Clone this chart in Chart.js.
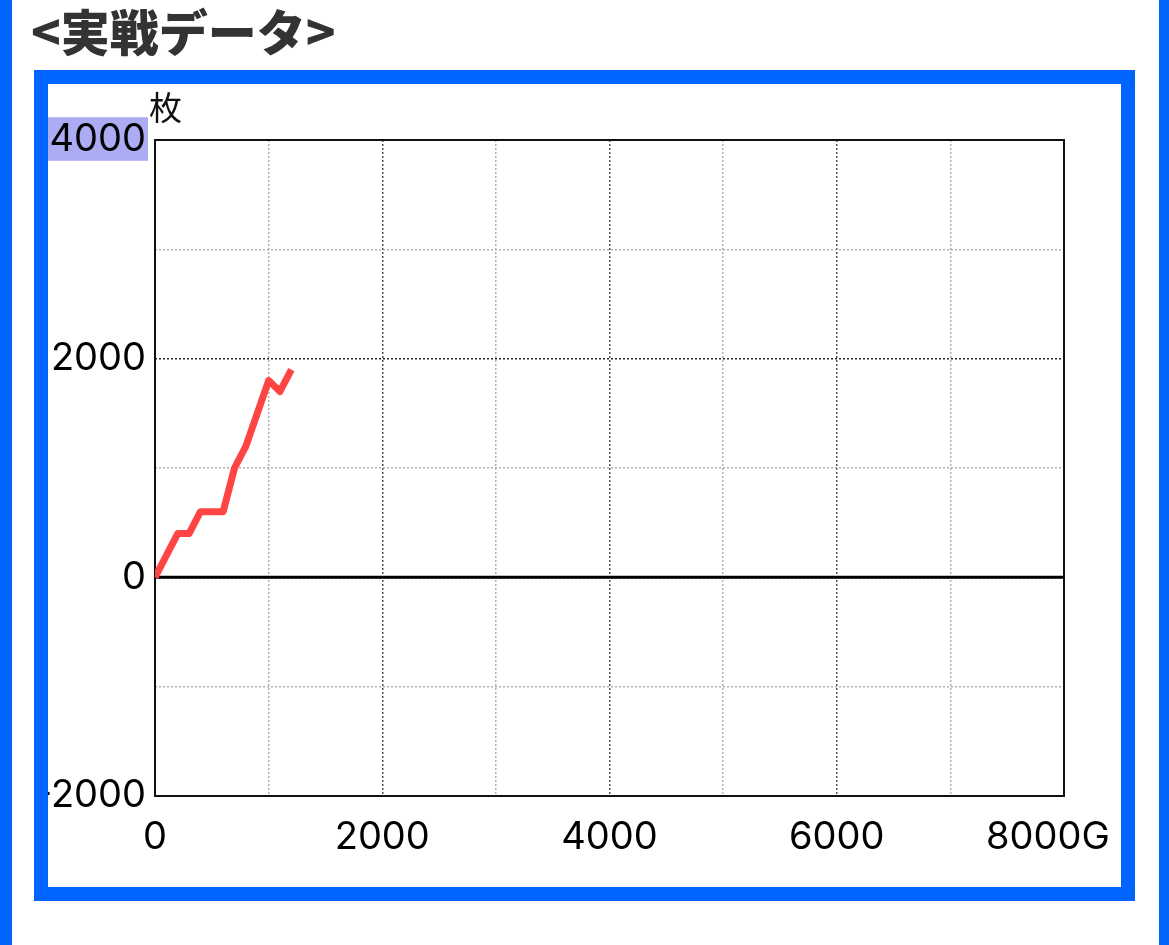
<!DOCTYPE html>
<html><head><meta charset="utf-8">
<script src="https://cdn.jsdelivr.net/npm/chart.js@4.4.0/dist/chart.umd.min.js"></script>
<style>
html,body{margin:0;padding:0;background:#fff;}
body{width:1169px;height:945px;position:relative;overflow:hidden;}
.strip{position:absolute;top:0;height:945px;background:#0064ff;}
#title{position:absolute;left:31px;top:-5px;font-family:"Noto Sans CJK JP";font-weight:900;font-size:49px;line-height:70px;color:#333;margin:0;white-space:nowrap;}
#box{position:absolute;left:34px;top:70px;width:1073px;height:803px;border:14px solid #0064ff;background:#fff;}
#unit{position:absolute;left:101px;top:0px;font-family:"Noto Sans CJK JP";font-size:33px;line-height:44px;color:#111;}
canvas{position:absolute;left:0;top:0;}
</style></head>
<body>
<div class="strip" style="left:0;width:12px"></div>
<div class="strip" style="left:1159px;width:10px"></div>
<h1 id="title">&lt;実戦データ&gt;</h1>
<div id="box">
<canvas id="c" width="1073" height="803"></canvas>
<div id="unit">枚</div>
</div>
<script>
// data
const games = [0, 200, 300, 400, 600, 700, 800, 1000, 1100, 1200];
const coins = [0, 400, 400, 600, 600, 1000, 1200, 1800, 1700, 1900];
const xLabels = {0: '0', 2000: '2000', 4000: '4000', 6000: '6000', 8000: '8000G   '};
const yLabels = {4000: '4000', 2000: '2000', 0: '0', '-2000': '-2000'};
const xRange = [0, 8000];
const yRange = [-2000, 4000];

const FONT = {family: 'Inter', size: 38};

const framePlugin = {
  id: 'frame',
  beforeDatasetsDraw(chart) {
    const {ctx, chartArea: a, scales} = chart;
    ctx.save();
    const y0 = scales.y.getPixelForValue(0);
    ctx.strokeStyle = '#000';
    ctx.lineWidth = 3;
    ctx.beginPath();
    ctx.moveTo(a.left, y0);
    ctx.lineTo(a.right, y0);
    ctx.stroke();
    ctx.lineWidth = 2;
    ctx.strokeStyle = '#111';
    ctx.strokeRect(a.left, a.top, a.right - a.left, a.bottom - a.top);
    ctx.restore();
  }
};

new Chart(document.getElementById('c'), {
  type: 'line',
  data: {
    datasets: [{
      data: games.map((g, i) => ({x: g, y: coins[i]})),
      borderColor: '#ff4444',
      borderWidth: 7,
      borderJoinStyle: 'round',
      pointRadius: 0,
      tension: 0,
      fill: false
    }]
  },
  options: {
    responsive: false,
    animation: false,
    devicePixelRatio: 1,
    layout: {padding: {left: 0, top: 56, right: 57, bottom: 0}},
    plugins: {legend: {display: false}, tooltip: {enabled: false}},
    scales: {
      x: {
        type: 'linear',
        min: xRange[0], max: xRange[1],
        afterFit: s => { s.height = 91; s.paddingLeft = 0; s.paddingRight = 0; },
        grid: {
          drawTicks: false,
          color: c => (c.tick && c.tick.value % 2000 === 0) ? '#555' : '#b0b0b0',
          lineWidth: 1.5
        },
        border: {display: false, dash: [2, 2]},
        ticks: {
          stepSize: 1000,
          autoSkip: false,
          maxRotation: 0,
          padding: 19,
          color: '#000',
          font: FONT,
          callback: v => xLabels[v] !== undefined ? xLabels[v] : ''
        }
      },
      y: {
        type: 'linear',
        min: yRange[0], max: yRange[1],
        afterFit: s => { s.width = 107; s.paddingTop = 0; s.paddingBottom = 0; },
        grid: {
          drawTicks: false,
          color: c => (c.tick && c.tick.value % 2000 === 0) ? '#222' : '#b0b0b0',
          lineWidth: 1.5
        },
        border: {display: false, dash: [2, 2]},
        ticks: {
          stepSize: 1000,
          autoSkip: false,
          padding: 9,
          color: '#000',
          font: FONT,
          showLabelBackdrop: true,
          backdropPadding: {left: 2, right: 2, top: 0, bottom: -2},
          backdropColor: c => (c.tick && c.tick.value === 4000) ? '#acacf5' : 'rgba(0,0,0,0)',
          callback: v => yLabels[v] !== undefined ? yLabels[v] : ''
        }
      }
    }
  },
  plugins: [framePlugin]
});
</script>
</body></html>
